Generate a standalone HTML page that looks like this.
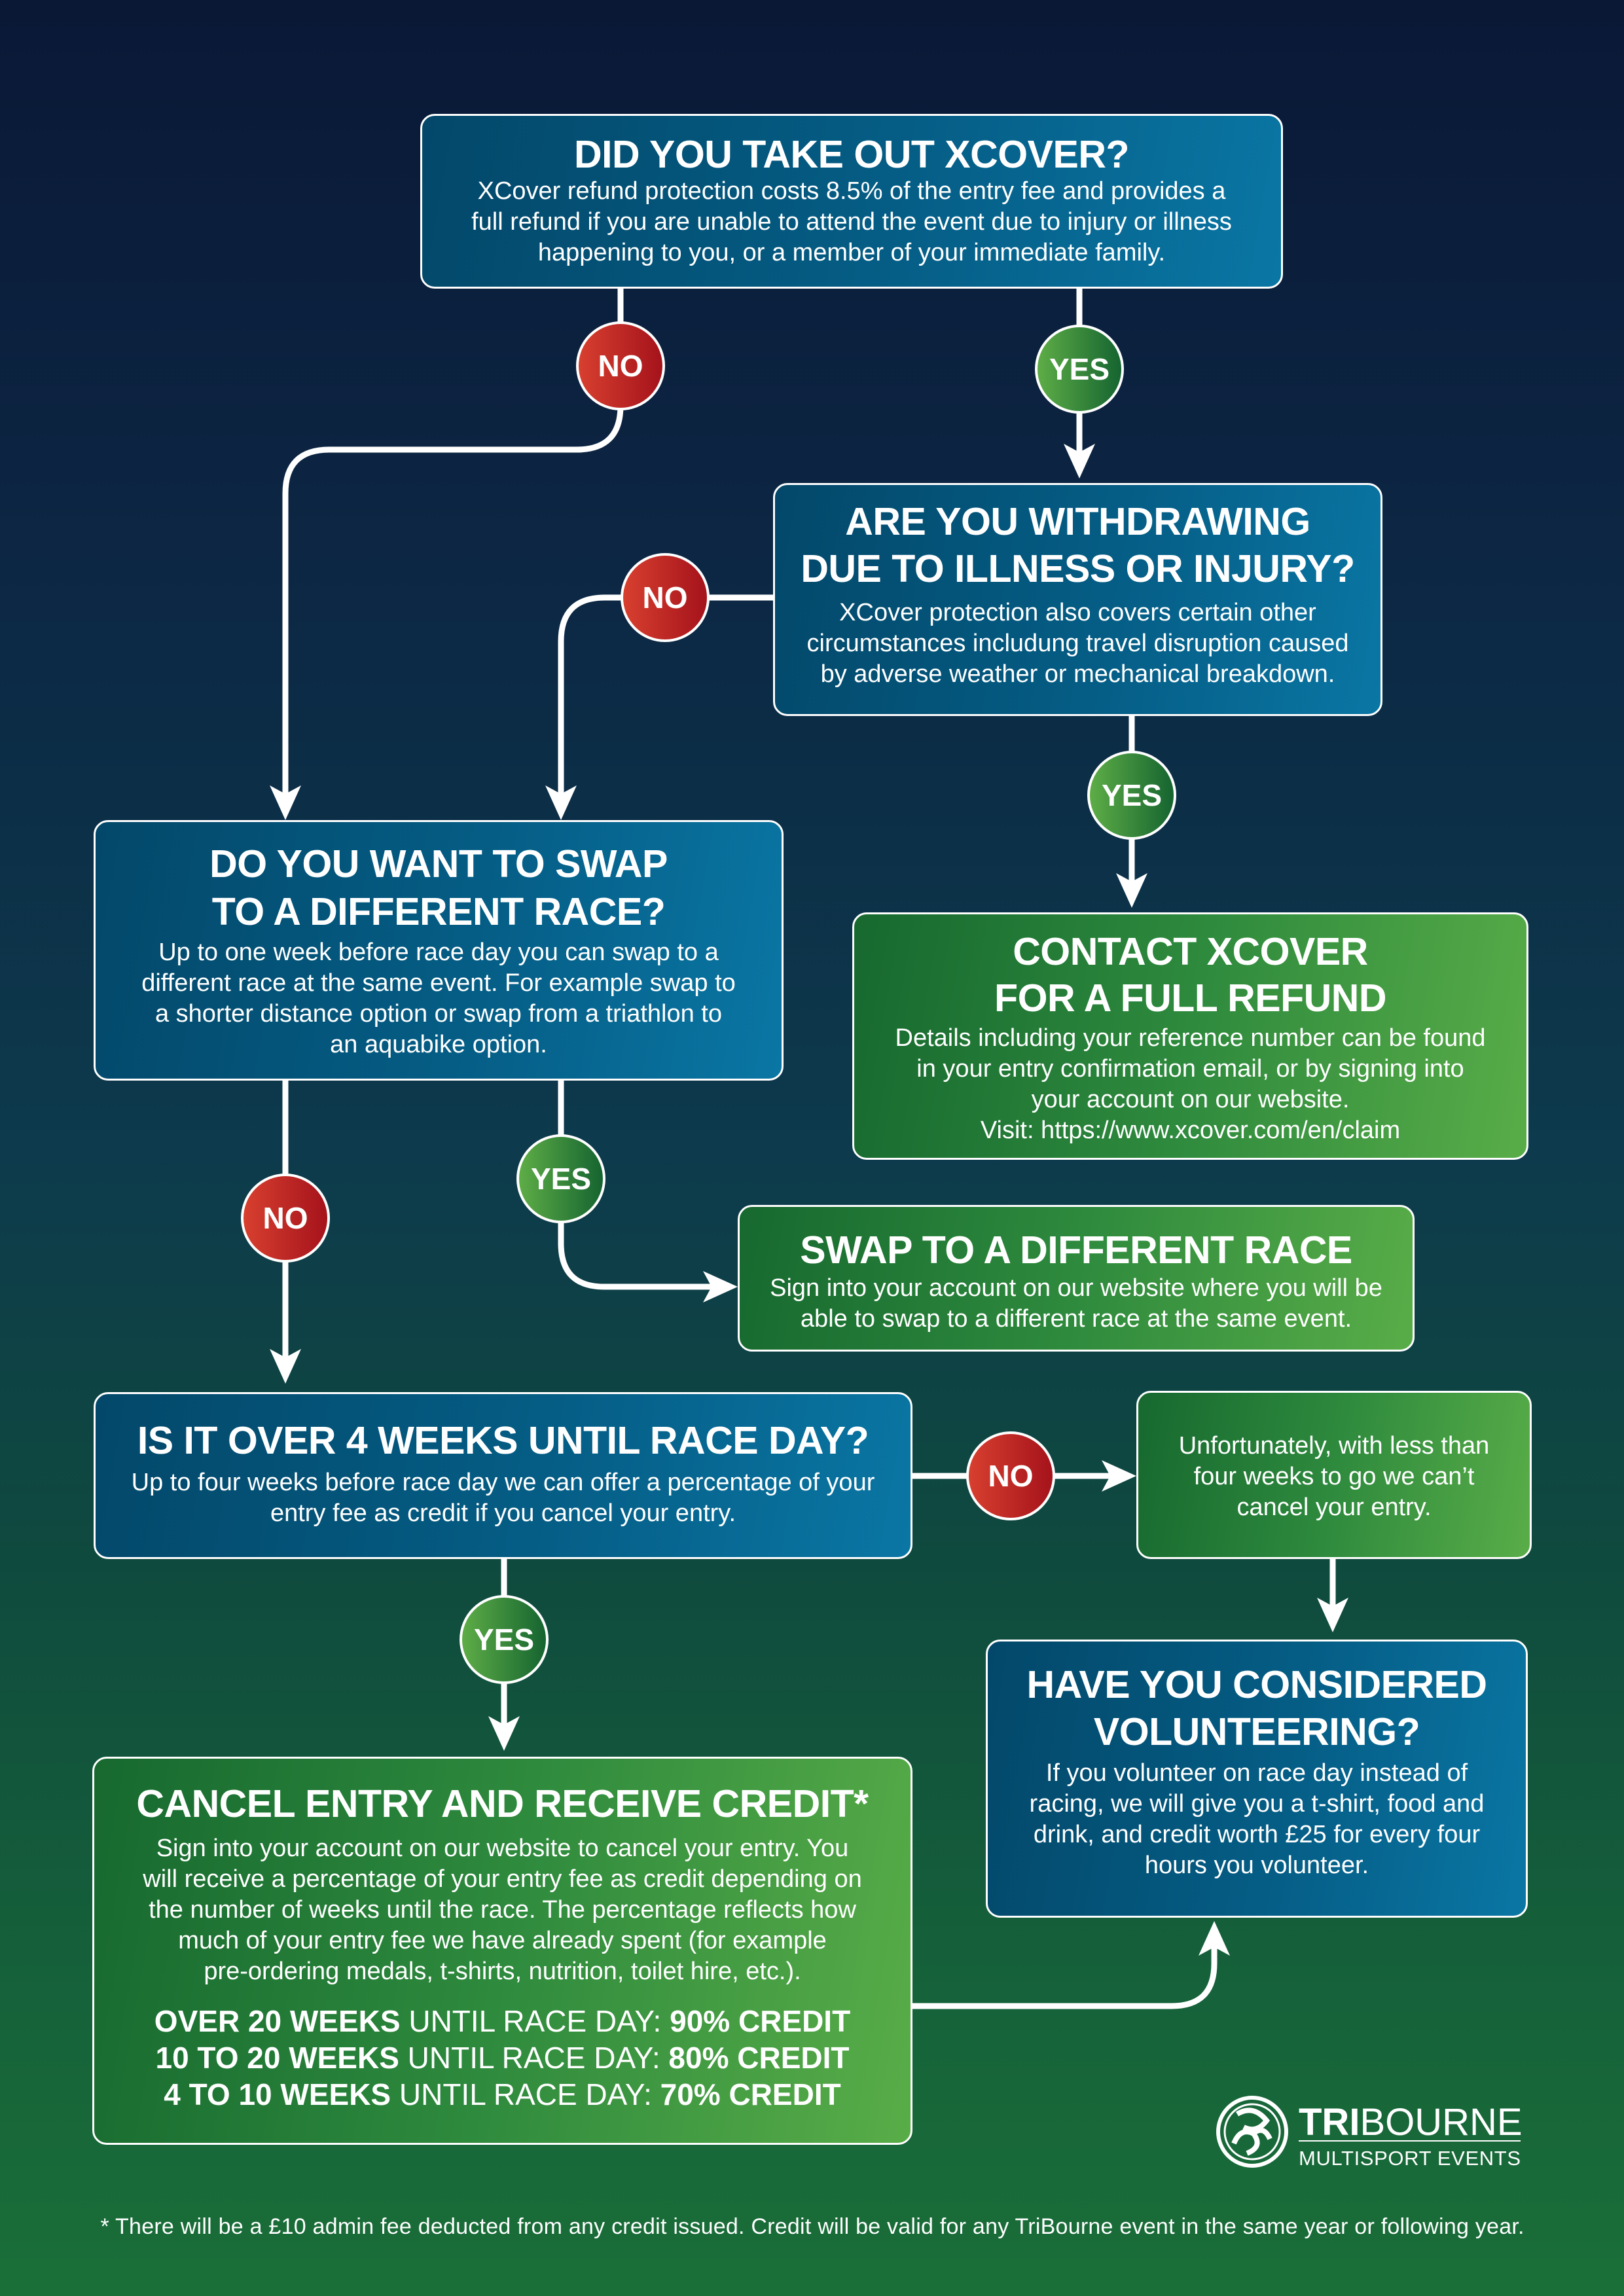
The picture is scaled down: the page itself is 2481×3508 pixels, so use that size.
<!DOCTYPE html>
<html><head><meta charset="utf-8"><style>
html,body{margin:0;padding:0}
body{width:2481px;height:3508px;position:relative;overflow:hidden;font-family:"Liberation Sans",sans-serif;color:#fff;
background:linear-gradient(180deg,#0a1836 0%,#0c2744 25%,#0d3a4c 50%,#0f4a3e 68%,#15603a 85%,#1a6f38 100%);}
.b{position:absolute;box-sizing:border-box;border:3px solid #fff;border-radius:22px;text-align:center;}
.bl{background:linear-gradient(100deg,#03486a 0%,#055d85 55%,#0a76a4 100%);}
.gr{background:linear-gradient(100deg,#17692f 0%,#2e8a3d 50%,#59ad48 100%);}
.t{font-weight:bold;font-size:59px;line-height:70px;letter-spacing:-0.5px;white-space:nowrap}
.d{font-size:38px;line-height:47px;white-space:nowrap}
.c{font-size:46px;line-height:56px;white-space:nowrap}
.c b{font-weight:bold}
</style></head><body>
<svg width="2481" height="3508" style="position:absolute;left:0;top:0" xmlns="http://www.w3.org/2000/svg">
<defs>
<linearGradient id="rd" x1="0" x2="1"><stop offset="0" stop-color="#d8402f"/><stop offset="1" stop-color="#a4121b"/></linearGradient>
<linearGradient id="gn" x1="0" x2="1"><stop offset="0" stop-color="#5fae47"/><stop offset="1" stop-color="#146330"/></linearGradient>
</defs>
<g fill="none" stroke="#fff" stroke-width="9">
<path d="M948 441 V620 Q948 687 881 687 H503 Q436 687 436 754 V1215"/>
<path d="M1649 441 V700"/>
<path d="M1181 913 H924 Q857 913 857 980 V1215"/>
<path d="M1729 1094 V1355"/>
<path d="M436 1651 V2080"/>
<path d="M857 1651 V1900 Q857 1966 923 1966 H1095"/>
<path d="M1394 2255 H1705"/>
<path d="M2036 2382 V2460"/>
<path d="M770 2382 V2640"/>
<path d="M1394 3065 H1790 Q1855 3065 1855 3000 V2970"/>
</g>
<g fill="#fff">
<polygon points="436,1253 412,1200 436,1213 460,1200"/>
<polygon points="1649,731 1625,678 1649,691 1673,678"/>
<polygon points="857,1253 833,1200 857,1213 881,1200"/>
<polygon points="1729,1387 1705,1334 1729,1347 1753,1334"/>
<polygon points="436,2114 412,2061 436,2074 460,2061"/>
<polygon points="1127,1966 1074,1942 1087,1966 1074,1990"/>
<polygon points="1736,2255 1683,2231 1696,2255 1683,2279"/>
<polygon points="2036,2494 2012,2441 2036,2454 2060,2441"/>
<polygon points="770,2675 746,2622 770,2635 794,2622"/>
<polygon points="1855,2935 1831,2988 1855,2975 1879,2988"/>
</g>
<g stroke="#fff" stroke-width="4">
<circle cx="948" cy="559" r="66" fill="url(#rd)"/>
<circle cx="1649" cy="564" r="66" fill="url(#gn)"/>
<circle cx="1016" cy="913" r="66" fill="url(#rd)"/>
<circle cx="1729" cy="1215" r="66" fill="url(#gn)"/>
<circle cx="436" cy="1861" r="66" fill="url(#rd)"/>
<circle cx="857" cy="1801" r="66" fill="url(#gn)"/>
<circle cx="1544" cy="2255" r="66" fill="url(#rd)"/>
<circle cx="770" cy="2505" r="66" fill="url(#gn)"/>
</g>
<g fill="#fff" font-family="Liberation Sans,sans-serif" font-weight="bold" font-size="46" text-anchor="middle">
<text x="948" y="575">NO</text>
<text x="1649" y="580">YES</text>
<text x="1016" y="929">NO</text>
<text x="1729" y="1231">YES</text>
<text x="436" y="1877">NO</text>
<text x="857" y="1817">YES</text>
<text x="1544" y="2271">NO</text>
<text x="770" y="2521">YES</text>
</g>
<g fill="none" stroke="#fff">
<circle cx="1913" cy="3257" r="52" stroke-width="6"/>
<circle cx="1913" cy="3257" r="42" stroke-width="3"/>
<path d="M1890 3230 Q1915 3215 1935 3240 Q1920 3260 1900 3250 M1885 3275 Q1895 3250 1915 3260 Q1930 3280 1905 3290 M1940 3268 Q1930 3245 1912 3262" stroke-width="8"/>
<line x1="1984" y1="3271" x2="2323" y2="3271" stroke-width="2"/>
</g>
<text x="1984" y="3262" fill="#fff" font-family="Liberation Sans,sans-serif" font-size="58"><tspan font-weight="bold">TRI</tspan>BOURNE</text>
<text x="1984" y="3308" fill="#fff" font-family="Liberation Sans,sans-serif" font-size="31" textLength="339">MULTISPORT EVENTS</text>
<text x="1241" y="3413" fill="#fff" font-family="Liberation Sans,sans-serif" font-size="34" text-anchor="middle" textLength="2175">* There will be a £10 admin fee deducted from any credit issued. Credit will be valid for any TriBourne event in the same year or following year.</text>
</svg>

<div class="b bl" style="left:642px;top:174px;width:1318px;height:267px;padding-top:26px">
<div class="t" style="line-height:66px">DID YOU TAKE OUT XCOVER?</div>
<div class="d">XCover refund protection costs 8.5% of the entry fee and provides a<br>full refund if you are unable to attend the event due to injury or illness<br>happening to you, or a member of your immediate family.</div></div>

<div class="b bl" style="left:1181px;top:738px;width:931px;height:356px;padding-top:20px">
<div class="t" style="line-height:72px">ARE YOU WITHDRAWING<br>DUE TO ILLNESS OR INJURY?</div>
<div class="d" style="margin-top:8px">XCover protection also covers certain other<br>circumstances includung travel disruption caused<br>by adverse weather or mechanical breakdown.</div></div>

<div class="b gr" style="left:1302px;top:1394px;width:1033px;height:378px;padding-top:22px">
<div class="t" style="line-height:71px">CONTACT XCOVER<br>FOR A FULL REFUND</div>
<div class="d" style="margin-top:2px">Details including your reference number can be found<br>in your entry confirmation email, or by signing into<br>your account on our website.<br>Visit: https://www.xcover.com/en/claim</div></div>

<div class="b bl" style="left:143px;top:1253px;width:1054px;height:398px;padding-top:28px">
<div class="t" style="line-height:73px">DO YOU WANT TO SWAP<br>TO A DIFFERENT RACE?</div>
<div class="d" style="margin-top:2px">Up to one week before race day you can swap to a<br>different race at the same event. For example swap to<br>a shorter distance option or swap from a triathlon to<br>an aquabike option.</div></div>

<div class="b gr" style="left:1127px;top:1841px;width:1034px;height:224px;padding-top:33px">
<div class="t" style="line-height:66px">SWAP TO A DIFFERENT RACE</div>
<div class="d" style="margin-top:2px">Sign into your account on our website where you will be<br>able to swap to a different race at the same event.</div></div>

<div class="b bl" style="left:143px;top:2127px;width:1251px;height:255px;padding-top:38px">
<div class="t" style="line-height:66px">IS IT OVER 4 WEEKS UNTIL RACE DAY?</div>
<div class="d" style="margin-top:8px">Up to four weeks before race day we can offer a percentage of your<br>entry fee as credit if you cancel your entry.</div></div>

<div class="b gr" style="left:1736px;top:2125px;width:604px;height:257px;padding-top:58px">
<div class="d">Unfortunately, with less than<br>four weeks to go we can’t<br>cancel your entry.</div></div>

<div class="b bl" style="left:1506px;top:2505px;width:828px;height:425px;padding-top:30px">
<div class="t" style="line-height:72px">HAVE YOU CONSIDERED<br>VOLUNTEERING?</div>
<div class="d" style="margin-top:4px">If you volunteer on race day instead of<br>racing, we will give you a t-shirt, food and<br>drink, and credit worth £25 for every four<br>hours you volunteer.</div></div>

<div class="b gr" style="left:141px;top:2684px;width:1253px;height:593px;padding-top:36px">
<div class="t" style="line-height:66px">CANCEL ENTRY AND RECEIVE CREDIT*</div>
<div class="d" style="margin-top:12px">Sign into your account on our website to cancel your entry. You<br>will receive a percentage of your entry fee as credit depending on<br>the number of weeks until the race. The percentage reflects how<br>much of your entry fee we have already spent (for example<br>pre-ordering medals, t-shirts, nutrition, toilet hire, etc.).</div>
<div class="c" style="margin-top:24px"><b>OVER 20 WEEKS</b> UNTIL RACE DAY: <b>90% CREDIT</b><br><b>10 TO 20 WEEKS</b> UNTIL RACE DAY: <b>80% CREDIT</b><br><b>4 TO 10 WEEKS</b> UNTIL RACE DAY: <b>70% CREDIT</b></div></div>
</body></html>
